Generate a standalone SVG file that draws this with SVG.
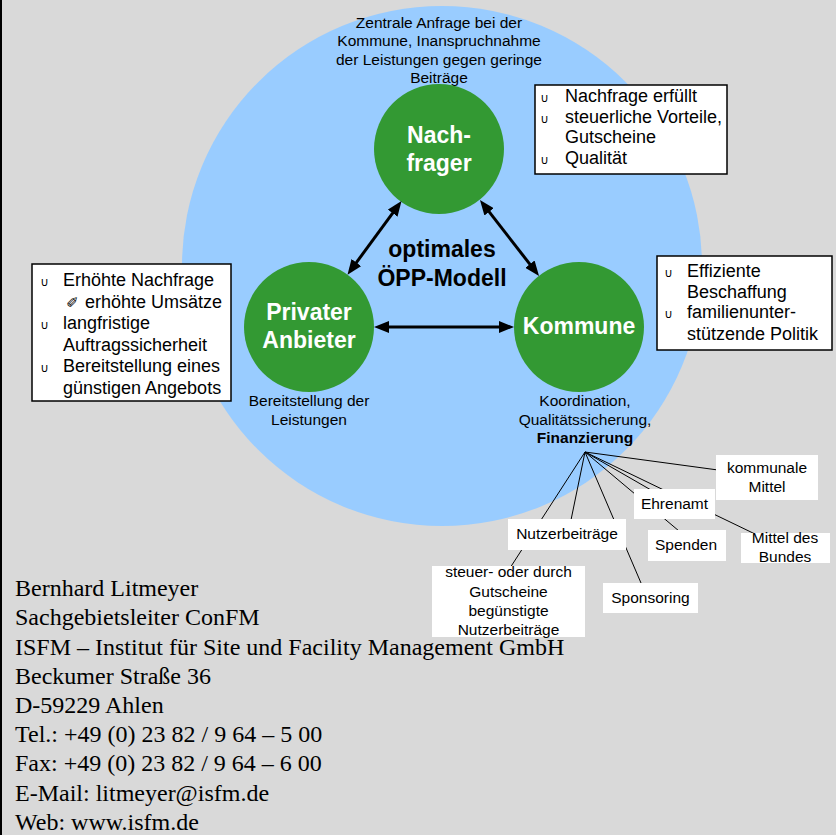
<svg xmlns="http://www.w3.org/2000/svg" width="836" height="835" viewBox="0 0 836 835">
<style>
  .lbl{font-family:"Liberation Sans",Arial,sans-serif;font-size:15.5px;fill:#000;text-anchor:middle}
  .blt{font-family:"Liberation Sans",Arial,sans-serif;font-size:18px;fill:#000}
  .cup{font-family:"DejaVu Sans",sans-serif;font-size:12px;fill:#000}
  .node{font-family:"Liberation Sans",Arial,sans-serif;font-size:23px;font-weight:bold;fill:#fff;text-anchor:middle}
  .mid{font-family:"Liberation Sans",Arial,sans-serif;font-size:23px;font-weight:bold;fill:#000;text-anchor:middle}
  .foot{font-family:"Liberation Serif","Times New Roman",serif;font-size:24px;fill:#000}
  .green{fill:#339933}
  .box{fill:#fff;stroke:#000;stroke-width:1.5}
  .wbox{fill:#fff}
  .arr{stroke:#000;stroke-width:3;fill:none}
  .fin{stroke:#000;stroke-width:1;fill:none}
</style>
<defs>
  <marker id="ah" viewBox="0 0 15 12" refX="5" refY="6" markerWidth="15" markerHeight="12" markerUnits="userSpaceOnUse" orient="auto-start-reverse">
    <path d="M0,0 L15,6 L0,12 z" fill="#000"/>
  </marker>
</defs>
<rect x="0" y="0" width="836" height="835" fill="#d9d9d9"/>
<rect x="0" y="0" width="2" height="835" fill="#000"/>

<g id="footer">
  <text class="foot" x="15" y="596">Bernhard Litmeyer</text>
  <text class="foot" x="15" y="625">Sachgebietsleiter ConFM</text>
  <text class="foot" x="15" y="654.5">ISFM – Institut für Site und Facility Management GmbH</text>
  <text class="foot" x="15" y="684">Beckumer Straße 36</text>
  <text class="foot" x="15" y="713">D-59229 Ahlen</text>
  <text class="foot" x="15" y="742">Tel.: +49 (0) 23 82 / 9 64 – 5 00</text>
  <text class="foot" x="15" y="771">Fax: +49 (0) 23 82 / 9 64 – 6 00</text>
  <text class="foot" x="15" y="800.5">E-Mail: litmeyer@isfm.de</text>
  <text class="foot" x="15" y="829.5">Web: www.isfm.de</text>
</g>

<g id="model-circle">
  <circle cx="442" cy="266" r="260" fill="#99ccff"/>
</g>

<g id="nachfrager-desc">
  <text class="lbl" x="439" y="27.5">Zentrale Anfrage bei der</text>
  <text class="lbl" x="439" y="46">Kommune, Inanspruchnahme</text>
  <text class="lbl" x="439" y="64.5">der Leistungen gegen geringe</text>
  <text class="lbl" x="439" y="83">Beiträge</text>
</g>

<g id="nachfrager">
  <circle class="green" cx="439" cy="149" r="65"/>
  <text class="node" x="439" y="143">Nach-</text>
  <text class="node" x="439" y="171">frager</text>
</g>

<g id="privater-anbieter">
  <circle class="green" cx="309" cy="327" r="65"/>
  <text class="node" x="309" y="320">Privater</text>
  <text class="node" x="309" y="348">Anbieter</text>
</g>

<g id="kommune">
  <circle class="green" cx="579" cy="327" r="65"/>
  <text class="node" x="579" y="334">Kommune</text>
</g>

<g id="center-label">
  <text class="mid" x="442" y="257">optimales</text>
  <text class="mid" x="442" y="286">ÖPP-Modell</text>
</g>

<g id="connectors">
  <line class="arr" x1="353.4" y1="266.6" x2="395.6" y2="209.1" marker-start="url(#ah)" marker-end="url(#ah)"/>
  <line class="arr" x1="486.1" y1="207.9" x2="532.9" y2="268.1" marker-start="url(#ah)" marker-end="url(#ah)"/>
  <line class="arr" x1="384" y1="327" x2="504" y2="327" marker-start="url(#ah)" marker-end="url(#ah)"/>
  <line class="fin" x1="585" y1="452" x2="718" y2="470"/>
  <line class="fin" x1="585" y1="452" x2="651" y2="490"/>
  <line class="fin" x1="585" y1="452" x2="679" y2="531"/>
  <line class="fin" x1="585" y1="452" x2="755" y2="534"/>
  <line class="fin" x1="585" y1="452" x2="641" y2="583"/>
  <line class="fin" x1="585" y1="452" x2="571" y2="520"/>
  <line class="fin" x1="585" y1="452" x2="510" y2="568"/>
</g>

<g id="nachfrager-benefits">
  <rect class="box" x="535" y="85" width="192" height="89"/>
  <text class="cup" x="540" y="102">∪</text>
  <text class="blt" x="565" y="102">Nachfrage erfüllt</text>
  <text class="cup" x="540" y="122.5">∪</text>
  <text class="blt" x="565" y="122.5">steuerliche Vorteile,</text>
  <text class="blt" x="565" y="143">Gutscheine</text>
  <text class="cup" x="540" y="163.5">∪</text>
  <text class="blt" x="565" y="163.5">Qualität</text>
</g>

<g id="anbieter-benefits">
  <rect class="box" x="32" y="264" width="199" height="137"/>
  <text class="cup" x="40" y="286">∪</text>
  <text class="blt" x="63" y="286">Erhöhte Nachfrage</text>
  <text class="blt" x="66" y="307.5" style="font-family:'DejaVu Sans',sans-serif;font-size:15px">✐</text>
  <text class="blt" x="85" y="307.5">erhöhte Umsätze</text>
  <text class="cup" x="40" y="329">∪</text>
  <text class="blt" x="63" y="329">langfristige</text>
  <text class="blt" x="63" y="350.5">Auftragssicherheit</text>
  <text class="cup" x="40" y="372">∪</text>
  <text class="blt" x="63" y="372">Bereitstellung eines</text>
  <text class="blt" x="63" y="393.5">günstigen Angebots</text>
</g>

<g id="kommune-benefits">
  <rect class="box" x="657" y="256" width="175" height="94"/>
  <text class="cup" x="664" y="277">∪</text>
  <text class="blt" x="687" y="277">Effiziente</text>
  <text class="blt" x="687" y="297.5">Beschaffung</text>
  <text class="cup" x="664" y="318">∪</text>
  <text class="blt" x="687" y="318">familienunter-</text>
  <text class="blt" x="687" y="340">stützende Politik</text>
</g>

<g id="anbieter-desc">
  <text class="lbl" x="309" y="406">Bereitstellung der</text>
  <text class="lbl" x="309" y="424.5">Leistungen</text>
</g>

<g id="kommune-desc">
  <text class="lbl" x="585" y="406">Koordination,</text>
  <text class="lbl" x="585" y="424.5">Qualitätssicherung,</text>
  <text class="lbl" x="585" y="443" font-weight="bold">Finanzierung</text>
</g>

<g id="kommunale-mittel">
  <rect class="wbox" x="716" y="455" width="102" height="45"/>
  <text class="lbl" x="767" y="473">kommunale</text>
  <text class="lbl" x="767" y="492">Mittel</text>
</g>
<g id="ehrenamt">
  <rect class="wbox" x="634" y="489" width="81" height="30"/>
  <text class="lbl" x="674.5" y="509">Ehrenamt</text>
</g>
<g id="spenden">
  <rect class="wbox" x="648" y="530" width="78" height="31"/>
  <text class="lbl" x="686" y="549.5">Spenden</text>
</g>
<g id="mittel-des-bundes">
  <rect class="wbox" x="741" y="533" width="89" height="30"/>
  <text class="lbl" x="785" y="543">Mittel des</text>
  <text class="lbl" x="785" y="562">Bundes</text>
</g>
<g id="nutzerbeitraege">
  <rect class="wbox" x="508" y="519" width="118" height="31"/>
  <text class="lbl" x="567" y="538.5">Nutzerbeiträge</text>
</g>
<g id="sponsoring">
  <rect class="wbox" x="603" y="583" width="95" height="30"/>
  <text class="lbl" x="650.5" y="602.5">Sponsoring</text>
</g>
<g id="steuer-nutzerbeitraege">
  <rect class="wbox" x="432" y="566" width="153" height="71"/>
  <text class="lbl" x="508.5" y="577">steuer- oder durch</text>
  <text class="lbl" x="508.5" y="596.5">Gutscheine</text>
  <text class="lbl" x="508.5" y="615.5">begünstigte</text>
  <text class="lbl" x="508.5" y="634.5">Nutzerbeiträge</text>
</g>
</svg>
